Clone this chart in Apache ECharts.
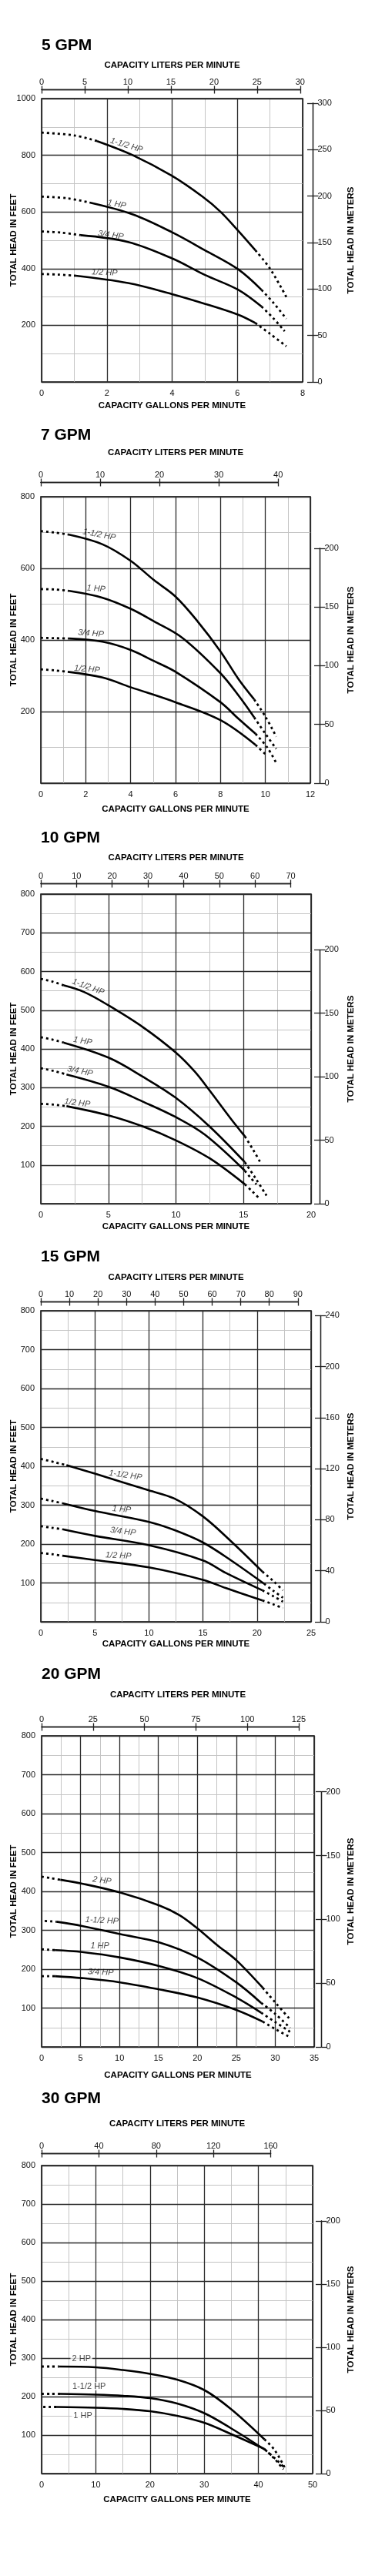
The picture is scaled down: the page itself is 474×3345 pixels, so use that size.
<!DOCTYPE html>
<html>
<head>
<meta charset="utf-8">
<title>Pump Curves</title>
<script src="https://cdn.jsdelivr.net/npm/echarts@6/dist/echarts.min.js"></script>
<style>
  html, body { margin: 0; padding: 0; background: #fff; }
  #main { width: 474px; height: 3345px; }
</style>
</head>
<body>
<div id="main"></div>
<script>
// ---- data: [gallons per minute, feet] ----
var gpm5_150 = [[0,880],[1,870],[1.7,850],[2.8,800],[4,727],[4.93,654],[5.48,601],[6.03,533],[6.55,465],[7,400],[7.5,300]];
var gpm5_100 = [[0,654],[0.8,648],[1.47,633],[2.8,591],[4,528],[5,465],[6.03,397],[6.74,325],[7.1,280],[7.5,223]];
var gpm5_075 = [[0,531],[0.6,527],[1.2,518],[2.65,494],[4,436],[5,378],[6.03,325],[6.74,266],[7.1,225],[7.45,179]];
var gpm5_050 = [[0,381],[0.5,379],[1.04,375],[2.65,349],[4,310],[5,276],[6.03,237],[6.55,208],[7,170],[7.5,126]];

var gpm7_150 = [[0,704],[0.6,700],[1.26,694],[2.75,667],[4,621],[5.04,567],[6,521],[6.98,452],[8,368],[8.8,291],[9.5,234],[10.02,184],[10.48,130]];
var gpm7_100 = [[0,542],[0.6,541],[1.26,537],[2.75,518],[4,487],[5.04,452],[6.3,406],[8,307],[8.8,245],[9.5,184],[10,138],[10.48,96]];
var gpm7_075 = [[0,406],[0.6,405],[1.26,404],[2.75,395],[4,372],[5.04,341],[6,311],[8,226],[8.8,180],[9.56,138],[10.08,100],[10.48,57]];
var gpm7_050 = [[0,318],[0.6,315],[1.2,311],[2.75,295],[4,268],[6,226],[8,176],[9.56,107],[10.02,80]];

var gpm10_150 = [[0,581],[0.85,574],[1.7,564],[3.2,547],[5.03,512],[7.6,455],[9.97,391],[11.4,341],[12.5,292],[14.05,220],[15.1,174],[15.7,140],[16.24,107]];
var gpm10_100 = [[0,430],[0.85,424],[1.7,416],[5.03,377],[7.6,327],[9.97,274],[12.5,199],[15.1,107],[15.9,65],[16.7,21]];
var gpm10_075 = [[0,350],[0.95,343],[1.9,334],[5.03,302],[7.6,263],[9.97,224],[12.15,178],[15.1,85],[15.5,68],[15.95,50]];
var gpm10_050 = [[0,258],[0.95,256],[1.9,252],[5.03,228],[7.6,199],[9.97,164],[12.5,117],[15.1,50],[15.7,30],[16.24,11]];

var gpm15_150 = [[0,419],[1.2,411],[2.37,403],[5,381],[10,338],[12.35,317],[15,271],[17.6,207],[20.5,129],[21.5,105],[22.4,81]];
var gpm15_100 = [[0,317],[1,311],[2,305],[5,285],[10,257],[12.35,236],[15,204],[17.6,158],[20.65,98],[21.5,80],[22.4,62]];
var gpm15_075 = [[0,246],[1,242],[2,238],[5,221],[10,197],[15,158],[17.1,126],[20.5,81],[21.5,66],[22.4,52]];
var gpm15_050 = [[0,177],[1,174],[2,170],[5,159],[10,140],[15,108],[17.1,87],[20.5,55],[21.5,45],[22.4,35]];

var gpm20_200 = [[0,438],[1.2,434],[2.4,430],[5.2,420],[10.1,397],[15.1,364],[17.7,339],[20,305],[22.6,261],[25,223],[28.4,152],[30.06,113],[31.9,71]];
var gpm20_150 = [[0.4,324],[1.2,323],[1.9,322],[5.2,311],[10.1,290],[15.1,269],[20,230],[25,166],[28.2,113],[30,85],[31.9,49]];
var gpm20_100 = [[0,251],[0.9,250],[1.7,249],[5.2,244],[10.1,230],[15.1,208],[20,177],[25,127],[28.2,88],[30,64],[31.9,39]];
var gpm20_075 = [[0,182],[0.9,182],[1.7,182],[5.2,177],[10.1,166],[15.1,148],[20,127],[25,95],[28.4,65],[30,46],[31.9,25]];

var gpm30_200 = [[0,278],[1.6,278],[3.2,278],[10,276],[15,269],[20,259],[25,244],[30,217],[34.9,168],[41.1,89],[43,61],[44.9,14]];
var gpm30_150 = [[0,207],[1.7,207],[3.4,207],[10,205],[15,202],[20,196],[25,182],[30,157],[34.9,118],[41.3,61],[43,40],[44.6,18]];
var gpm30_100 = [[0.3,173],[1.5,173],[2.7,173],[10,171],[15,168],[20,162],[25,150],[30,132],[34.9,103],[41.1,64],[43,38],[44.6,11]];

// curve lists: [points, solid from gpm, solid to gpm]
var curves = [
  [[gpm5_150, 1.7, 6.55], [gpm5_100, 1.47, 6.74], [gpm5_075, 1.2, 6.74], [gpm5_050, 1.04, 6.55]],
  [[gpm7_150, 1.26, 9.5], [gpm7_100, 1.26, 9.5], [gpm7_075, 1.26, 9.56], [gpm7_050, 1.2, 9.56]],
  [[gpm10_150, 1.7, 15.1], [gpm10_100, 1.7, 15.1], [gpm10_075, 1.9, 15.1], [gpm10_050, 1.9, 15.1]],
  [[gpm15_150, 2.37, 20.5], [gpm15_100, 2, 20.65], [gpm15_075, 2, 20.5], [gpm15_050, 2, 20.5]],
  [[gpm20_200, 2.4, 28.4], [gpm20_150, 1.9, 28.2], [gpm20_100, 1.7, 28.2], [gpm20_075, 1.7, 28.4]],
  [[gpm30_200, 3.2, 41.1], [gpm30_150, 3.4, 41.3], [gpm30_100, 2.7, 41.1]]
];

// curve labels: [text, gpm, feet]
var labels5 = [['1-1/2 HP', 2.6, 835], ['1 HP', 2.3, 627], ['3/4 HP', 2.12, 518], ['1/2 HP', 1.93, 386]];
var labels7 = [['1-1/2 HP', 2.6, 694], ['1 HP', 2.46, 543], ['3/4 HP', 2.23, 418], ['1/2 HP', 2.06, 318]];
var labels10 = [['1-1/2 HP', 3.5, 560], ['1 HP', 3.1, 420], ['3/4 HP', 2.9, 342], ['1/2 HP', 2.7, 260]];
var labels15 = [['1-1/2 HP', 7.83, 377], ['1 HP', 7.48, 289], ['3/4 HP', 7.6, 232], ['1/2 HP', 7.17, 170]];
var labels20 = [['2 HP', 7.75, 428], ['1-1/2 HP', 7.75, 325], ['1 HP', 7.48, 260], ['3/4 HP', 7.58, 192]];
var labels30 = [['2 HP', 7.35, 299], ['1-1/2 HP', 8.77, 227], ['1 HP', 7.6, 150]];
var labelSets = [labels5, labels7, labels10, labels15, labels20, labels30];

var titles = ['5 GPM', '7 GPM', '10 GPM', '15 GPM', '20 GPM', '30 GPM'];
var galMax = [8, 12, 20, 25, 35, 50];
var galMajor = [2, 2, 5, 5, 5, 10];
var ftMax = [1000, 800, 800, 800, 800, 800];
var ftMajor = [200, 200, 100, 100, 100, 100];
var litMax = [30, 40, 70, 90, 125, 160];
var litStep = [5, 10, 10, 10, 25, 40];
var mTop = [300, 200, 200, 240, 200, 200];
var mStep = [50, 50, 50, 40, 50, 50];

// ---- layout (pixels) ----
var layout = [
  {title: 61,   litTitle: 85,   litLine: 116,  top: 128,  bottom: 496,  left: 54, right: 393, galTitle: 527,  mX: 406},
  {title: 567,  litTitle: 588,  litLine: 626,  top: 645,  bottom: 1017, left: 53, right: 403, galTitle: 1051, mX: 415},
  {title: 1090, litTitle: 1114, litLine: 1147, top: 1161, bottom: 1563, left: 53, right: 404, galTitle: 1593, mX: 415},
  {title: 1634, litTitle: 1659, litLine: 1690, top: 1702, bottom: 2106, left: 53, right: 404, galTitle: 2135, mX: 416},
  {title: 2176, litTitle: 2201, litLine: 2242, top: 2254, bottom: 2658, left: 54, right: 408, galTitle: 2695, mX: 417},
  {title: 2727, litTitle: 2758, litLine: 2796, top: 2812, bottom: 3212, left: 54, right: 406, galTitle: 3246, mX: 417}
];
var labelRotate = [[-17, -11, -8, -3], [-11, -5, -5, -5], [-20, -10, -12, -7], [-8, -5, -7, -3], [-8, -3, 0, -3], [0, 0, 0]];

var FONT = 'Liberation Sans, Arial, Helvetica, sans-serif';
var LITERS_PER_GAL = 3.78541;
var M_PER_FT = 0.3048;

var grids = [], xAxes = [], yAxes = [], series = [], graphics = [];
var tickFont = {color: '#111', fontSize: 11, fontFamily: FONT};

function splitCurve(pts, s, e) {
  var lead = [], body = [], tail = [];
  pts.forEach(function (p) {
    if (p[0] <= s) lead.push(p);
    if (p[0] >= s && p[0] <= e) body.push(p);
    if (p[0] >= e) tail.push(p);
  });
  return [lead, body, tail];
}

layout.forEach(function (L, k) {
  var gw = L.right - L.left, gh = L.bottom - L.top;
  var g0 = grids.length;
  // main grid
  grids.push({left: L.left, top: L.top, width: gw, height: gh, show: true,
    borderColor: '#000', borderWidth: 1.5, backgroundColor: 'transparent', containLabel: false});
  // liters axis grid
  var lw = litMax[k] / LITERS_PER_GAL / galMax[k] * gw;
  grids.push({left: L.left, top: L.litLine, width: lw, height: 0.5});
  // meters axis grid
  var mh = mTop[k] / (ftMax[k] * M_PER_FT) * gh;
  grids.push({left: L.mX, top: L.bottom - mh, width: 0.5, height: mh});

  var xi = xAxes.length, yi = yAxes.length;
  // main x: minor, major
  xAxes.push({gridIndex: g0, type: 'value', position: 'bottom', min: 0, max: galMax[k], interval: galMajor[k] / 2,
    axisLine: {show: false}, axisTick: {show: false}, axisLabel: {show: false},
    splitLine: {lineStyle: {color: '#c4c4c4', width: 1}}, z: 0});
  xAxes.push({gridIndex: g0, type: 'value', position: 'bottom', min: 0, max: galMax[k], interval: galMajor[k],
    axisLine: {show: false}, axisTick: {show: false},
    axisLabel: Object.assign({margin: 9}, tickFont),
    splitLine: {lineStyle: {color: '#2a2a2a', width: 1.3}}, z: 1});
  // liters
  xAxes.push({gridIndex: g0 + 1, type: 'value', position: 'top', min: 0, max: litMax[k], interval: litStep[k],
    axisLine: {lineStyle: {color: '#222', width: 1.3}}, axisTick: {length: 5, lineStyle: {color: '#222', width: 1.3}},
    axisLabel: Object.assign({margin: 4}, tickFont), splitLine: {show: false}});
  xAxes.push({gridIndex: g0 + 1, type: 'value', position: 'bottom', min: 0, max: litMax[k], interval: litStep[k],
    axisLine: {lineStyle: {color: '#222', width: 1.3}}, axisTick: {length: 5, lineStyle: {color: '#222', width: 1.3}},
    axisLabel: {show: false}, splitLine: {show: false}});
  // meters grid dummy x
  xAxes.push({gridIndex: g0 + 2, type: 'value', show: false, min: 0, max: 1});

  // main y: minor, major
  yAxes.push({gridIndex: g0, type: 'value', position: 'left', min: 0, max: ftMax[k], interval: ftMajor[k] / 2,
    axisLine: {show: false}, axisTick: {show: false}, axisLabel: {show: false},
    splitLine: {lineStyle: {color: '#c4c4c4', width: 1}}, z: 0});
  yAxes.push({gridIndex: g0, type: 'value', position: 'left', min: 0, max: ftMax[k], interval: ftMajor[k],
    axisLine: {show: false}, axisTick: {show: false},
    axisLabel: Object.assign({margin: 8, formatter: function (v) { return v === 0 ? '' : v; }}, tickFont),
    splitLine: {lineStyle: {color: '#2a2a2a', width: 1.3}}, z: 1});
  // liters grid dummy y
  yAxes.push({gridIndex: g0 + 1, type: 'value', show: false, min: 0, max: 1});
  // meters
  yAxes.push({gridIndex: g0 + 2, type: 'value', position: 'left', min: 0, max: mTop[k], interval: mStep[k],
    axisLine: {show: true, lineStyle: {color: '#222', width: 1.3}}, axisTick: {show: true, length: 7, lineStyle: {color: '#222', width: 1.3}},
    axisLabel: {show: false}, splitLine: {show: false}});
  yAxes.push({gridIndex: g0 + 2, type: 'value', position: 'right', min: 0, max: mTop[k], interval: mStep[k],
    axisLine: {show: true, lineStyle: {color: '#222', width: 1.3}}, axisTick: {show: true, length: 7, lineStyle: {color: '#222', width: 1.3}},
    axisLabel: Object.assign({margin: 6}, tickFont), splitLine: {show: false}});

  // curves
  curves[k].forEach(function (c) {
    var parts = splitCurve(c[0], c[1], c[2]);
    parts.forEach(function (seg, j) {
      series.push({type: 'line', xAxisIndex: xi + 1, yAxisIndex: yi + 1, data: seg,
        smooth: 0.35, symbol: 'none', silent: true, z: 5,
        lineStyle: j === 1 ? {color: '#000', width: 2.6} : {color: '#000', width: 2.8, type: [3, 4]}});
    });
  });
  // curve labels
  var upright = k === 5;
  series.push({type: 'scatter', xAxisIndex: xi + 1, yAxisIndex: yi + 1, symbolSize: 0, z: 6, silent: true,
    data: labelSets[k].map(function (l, j) {
      return {value: [l[1], l[2]], name: l[0], label: {rotate: labelRotate[k][j]}};
    }),
    label: {show: true, position: 'inside', formatter: '{b}', color: '#111', fontSize: 11,
      fontFamily: FONT, fontStyle: upright ? 'normal' : 'italic',
      backgroundColor: upright ? '#fff' : 'transparent', padding: upright ? [0, 2] : 0}});

  // texts
  graphics.push({type: 'text', left: L.left, top: L.title - 12,
    style: {text: titles[k], font: 'bold 21px ' + FONT, fill: '#000'}});
  graphics.push({type: 'text', x: L.left + gw / 2, y: L.litTitle,
    style: {text: 'CAPACITY LITERS PER MINUTE', font: 'bold 11.5px ' + FONT, fill: '#000', textAlign: 'center', textVerticalAlign: 'middle'}});
  graphics.push({type: 'text', x: L.left + gw / 2, y: L.galTitle,
    style: {text: 'CAPACITY GALLONS PER MINUTE', font: 'bold 11.5px ' + FONT, fill: '#000', textAlign: 'center', textVerticalAlign: 'middle'}});
  graphics.push({type: 'text', x: 18, y: L.top + gh / 2, rotation: Math.PI / 2,
    style: {text: 'TOTAL HEAD IN FEET', font: 'bold 11.5px ' + FONT, fill: '#000', textAlign: 'center', textVerticalAlign: 'middle'}});
  graphics.push({type: 'text', x: 456, y: L.top + gh / 2, rotation: Math.PI / 2,
    style: {text: 'TOTAL HEAD IN METERS', font: 'bold 11.5px ' + FONT, fill: '#000', textAlign: 'center', textVerticalAlign: 'middle'}});
});

var chart = echarts.init(document.getElementById('main'), null, {renderer: 'canvas'});
chart.setOption({
  animation: false,
  backgroundColor: '#fff',
  textStyle: {fontFamily: FONT},
  grid: grids,
  xAxis: xAxes,
  yAxis: yAxes,
  series: series,
  graphic: graphics
});
</script>
</body>
</html>
